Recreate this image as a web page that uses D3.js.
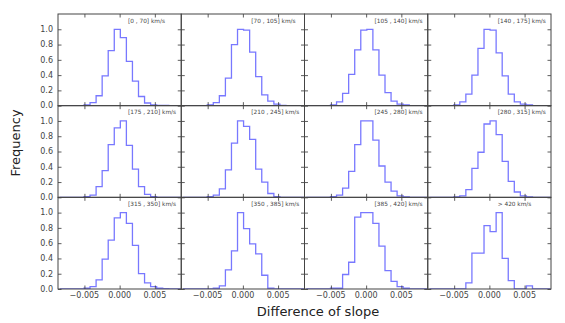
<!DOCTYPE html>
<html>
<head>
<meta charset="utf-8">
<script src="https://cdn.jsdelivr.net/npm/d3@7"></script>
<style>
  body { margin: 0; background: #fff; }
  svg { display: block; font-family: "DejaVu Sans", sans-serif; }
</style>
</head>
<body>
<svg id="chart" width="565" height="323"></svg>
<script>
// speed bins shown in each panel
var panelLabels = [
    "[0 , 70] km/s", "[70 , 105] km/s", "[105 , 140] km/s", "[140 , 175] km/s",
    "[175 , 210] km/s", "[210 , 245] km/s", "[245 , 280] km/s", "[280 , 315] km/s",
    "[315 , 350] km/s", "[350 , 385] km/s", "[385 , 420] km/s", "> 420 km/s"
];

// left edges of the histogram bins, and the right edge of the last one
var binEdges = [-0.0085, -0.00764, -0.00678, -0.00592, -0.00506, -0.0042, -0.00334,
    -0.00248, -0.00162, -0.00076, 0.0001, 0.00096, 0.00182, 0.00268, 0.00354,
    0.0044, 0.00526, 0.00612, 0.00698, 0.00784];
var binEnd = 0.0087;

// normalised frequencies, one list per panel
var freq1  = [0, 0, 0, 0, 0.01, 0.04, 0.13, 0.39, 0.72, 1.0, 0.89, 0.58, 0.32, 0.12, 0.035, 0.01, 0.005, 0.003, 0, 0];
var freq2  = [0, 0, 0, 0, 0.01, 0.04, 0.13, 0.36, 0.80, 1.0, 0.99, 0.70, 0.38, 0.14, 0.06, 0.02, 0.005, 0, 0, 0];
var freq3  = [0, 0, 0, 0, 0.01, 0.05, 0.16, 0.41, 0.73, 0.99, 1.0, 0.73, 0.40, 0.17, 0.06, 0.02, 0.01, 0, 0, 0];
var freq4  = [0, 0, 0, 0, 0.01, 0.05, 0.15, 0.40, 0.75, 1.0, 0.99, 0.69, 0.39, 0.15, 0.05, 0.02, 0.01, 0, 0, 0];
var freq5  = [0, 0, 0, 0, 0.01, 0.03, 0.14, 0.35, 0.69, 0.91, 1.0, 0.68, 0.37, 0.14, 0.04, 0.01, 0, 0, 0, 0];
var freq6  = [0, 0, 0, 0, 0.01, 0.03, 0.11, 0.36, 0.71, 1.0, 0.93, 0.76, 0.37, 0.20, 0.05, 0.01, 0, 0, 0, 0];
var freq7  = [0, 0, 0, 0, 0.01, 0.03, 0.12, 0.34, 0.69, 1.0, 1.0, 0.75, 0.41, 0.20, 0.08, 0.02, 0.005, 0, 0, 0];
var freq8  = [0, 0, 0, 0, 0.005, 0.02, 0.10, 0.38, 0.59, 0.96, 1.0, 0.82, 0.47, 0.21, 0.07, 0.02, 0.005, 0, 0, 0];
var freq9  = [0, 0, 0, 0, 0.01, 0.03, 0.12, 0.39, 0.64, 0.93, 1.0, 0.86, 0.57, 0.20, 0.08, 0.03, 0.01, 0.005, 0, 0];
var freq10 = [0, 0, 0, 0, 0, 0.01, 0.04, 0.25, 0.50, 1.0, 0.79, 0.59, 0.46, 0.18, 0.01, 0, 0, 0, 0, 0];
var freq11 = [0, 0, 0, 0, 0.01, 0.01, 0.19, 0.35, 0.94, 1.0, 1.0, 0.86, 0.56, 0.24, 0.10, 0.03, 0.01, 0, 0, 0];
var freq12 = [0, 0, 0, 0, 0, 0, 0.08, 0.47, 0.47, 0.83, 0.75, 1.0, 0.40, 0.11, 0, 0, 0.04, 0, 0, 0];
var panelFreqs = [freq1, freq2, freq3, freq4, freq5, freq6, freq7, freq8, freq9, freq10, freq11, freq12];

var xTicks = [-0.005, 0, 0.005];
var yTicks = [0, 0.2, 0.4, 0.6, 0.8, 1.0];

var svg = d3.select("#chart");
// grid placement (note: "top" is taken by window.top)
var gridLeft = 58, gridRight = 551, gridTop = 14, gridBottom = 289;
var nCols = 4, nRows = 3;
var cellW = (gridRight - gridLeft) / nCols, cellH = (gridBottom - gridTop) / nRows;

var x = d3.scaleLinear().domain([-0.00875, 0.00875]).range([0, cellW]);
var y = d3.scaleLinear().domain([0, 1.2]).range([cellH, 0]);

var fmtX = function (d) { return d === 0 ? "0.000" : (d < 0 ? "\u2212" : "") + Math.abs(d).toFixed(3); };

var line = d3.line()
    .x(function (d) { return x(d[0]); })
    .y(function (d) { return y(d[1]); })
    .curve(d3.curveStepAfter);

svg.append("defs").append("clipPath")
    .attr("id", "cell-clip")
    .append("rect")
    .attr("width", cellW)
    .attr("height", cellH);

panelFreqs.forEach(function (vals, i) {
    var col = i % nCols, row = Math.floor(i / nCols);
    var g = svg.append("g")
        .attr("transform", "translate(" + (gridLeft + col * cellW) + "," + (gridTop + row * cellH) + ")");

    // histogram outline
    var pts = binEdges.map(function (e, k) { return [e, vals[k]]; });
    pts.push([binEnd, vals[vals.length - 1]]);
    g.append("path")
        .attr("clip-path", "url(#cell-clip)")
        .attr("d", line(pts))
        .attr("fill", "none")
        .attr("stroke", "#7878ff")
        .attr("stroke-width", 1.3);

    // inner ticks on all four sides
    var tickLen = 3.5;
    var ax = [
        d3.axisBottom(x).tickValues(xTicks).tickSize(-tickLen).tickFormat(""),
        d3.axisTop(x).tickValues(xTicks).tickSize(-tickLen).tickFormat(""),
        d3.axisLeft(y).tickValues(yTicks).tickSize(-tickLen).tickFormat(""),
        d3.axisRight(y).tickValues(yTicks).tickSize(-tickLen).tickFormat("")
    ];
    var offs = [[0, cellH], [0, 0], [0, 0], [cellW, 0]];
    ax.forEach(function (a, k) {
        var ag = g.append("g")
            .attr("transform", "translate(" + offs[k][0] + "," + offs[k][1] + ")")
            .call(a);
        ag.select(".domain").remove();
        ag.selectAll(".tick line").attr("stroke", "#333").attr("stroke-width", 0.8);
    });

    // tick labels only on the outer panels
    if (col === 0) {
        g.selectAll(".ylab")
            .data(yTicks)
            .enter().append("text")
            .attr("x", -5)
            .attr("y", function (d) { return y(d); })
            .attr("dy", "0.35em")
            .attr("text-anchor", "end")
            .attr("font-size", 8)
            .attr("fill", "#444")
            .text(function (d) { return d.toFixed(1); });
    }
    if (row === nRows - 1) {
        g.selectAll(".xlab")
            .data(xTicks)
            .enter().append("text")
            .attr("x", function (d) { return x(d); })
            .attr("y", cellH + 9)
            .attr("text-anchor", "middle")
            .attr("font-size", 8)
            .attr("fill", "#444")
            .text(fmtX);
    }

    // frame
    g.append("rect")
        .attr("width", cellW)
        .attr("height", cellH)
        .attr("fill", "none")
        .attr("stroke", "#444")
        .attr("stroke-width", 1);

    g.append("text")
        .attr("x", 70)
        .attr("y", 8.5)
        .attr("font-size", 5.8)
        .attr("fill", "#444")
        .text(panelLabels[i]);
});

svg.append("text")
    .attr("transform", "translate(20,143) rotate(-90)")
    .attr("text-anchor", "middle")
    .attr("font-size", 13)
    .attr("fill", "#222")
    .text("Frequency");

svg.append("text")
    .attr("x", 318)
    .attr("y", 316)
    .attr("text-anchor", "middle")
    .attr("font-size", 13)
    .attr("fill", "#222")
    .text("Difference of slope");
</script>
</body>
</html>
